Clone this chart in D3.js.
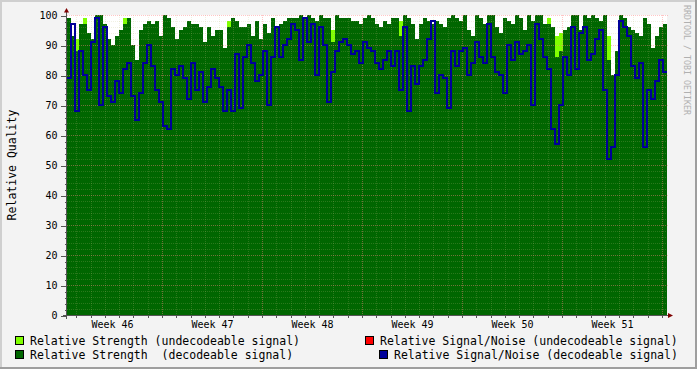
<!DOCTYPE html>
<html><head><meta charset="utf-8">
<script src="https://cdn.jsdelivr.net/npm/d3@7"></script>
<style>
html,body{margin:0;padding:0;background:#F3F3F3;overflow:hidden}
text{font-family:"DejaVu Sans Mono",monospace;white-space:pre}
</style>
</head><body><svg id="c" width="697" height="369"></svg>
<script>
// ---- data (one sample every 1/150 of the 6-week span) ----
const strengthDec = [
 99,93,88,97,97,94,92,100,100,97, 92,90,93,95,97,99,90,85,95,97,
 98,97,98,93,100,99,96,92,95,96, 98,97,97,96,91,96,93,95,95,89,
 96,99,98,96,96,97,93,98,92,97, 94,99,96,97,98,99,99,99,100,99,
 100,99,98,100,99,99,91,100,99,99, 99,98,98,97,99,100,99,97,96,98,
 97,99,99,93,100,99,97,92,97,99, 98,97,98,97,96,99,100,99,98,100,
 95,93,100,99,97,100,100,96,94,99, 98,97,100,99,95,100,98,100,100,97,
 97,96,86,88,95,96,100,100,95,100, 99,100,99,98,100,85,80,88,100,99,
 96,95,94,93,99,97,89,93,96,97
];
const strengthUndec = [
 null,null,92,null,99,null,null,null,null,null, null,null,null,null,99,null,null,null,null,null,
 null,null,null,null,null,null,null,null,null,null, null,null,null,null,null,null,null,null,null,null,
 98,null,null,null,null,null,null,null,null,null, null,null,null,null,null,null,null,null,null,null,
 null,null,null,null,null,null,95,null,null,null, null,null,null,null,null,null,null,null,null,null,
 null,null,null,98,null,null,null,null,null,null, null,null,null,null,null,null,null,null,null,null,
 null,null,null,null,null,null,null,null,null,null, null,null,null,null,null,null,null,null,null,null,
 99,null,93,94,null,null,null,null,null,null, null,null,null,null,null,93,null,null,null,null,
 null,null,null,null,null,null,null,null,null,null
];
const snrDec = [
 79,97,68,88,80,75,91,99,70,96, 73,71,78,74,82,84,73,65,74,84,
 90,83,75,71,63,62,82,80,83,79, 72,84,75,81,71,76,82,79,76,68,
 75,68,87,69,86,90,84,78,80,88, 70,86,96,86,90,92,97,95,85,99,
 91,97,80,96,90,71,81,88,91,92, 90,87,88,84,91,89,88,84,82,85,
 88,83,88,75,96,68,83,77,83,85, 92,98,74,80,79,69,88,83,88,89,
 80,84,91,86,84,97,86,81,80,74, 90,85,91,87,88,90,70,97,92,86,
 82,62,57,70,86,80,96,82,94,96, 85,87,92,95,75,52,56,80,98,96,
 93,83,79,84,56,75,72,78,85,81
];
const snrUndec = [];
const yTicks = [0,10,20,30,40,50,60,70,80,90,100];
const yMinorTicks = d3.range(0,101,2);
const weekLabel = "Week %V";
const legendLeft = ["Relative Strength (undecodeable signal)","Relative Strength  (decodeable signal)"];
const legendRight = ["Relative Signal/Noise (undecodeable signal)","Relative Signal/Noise (decodeable signal)"];
const colors = {undecStr:"#80FF00", decStr:"#006600", undecSnr:"#FF0000", decSnr:"#000099"};

// ---- layout ----
const svg = d3.select("#c");
const start = new Date(Date.UTC(2005,10,14,8,24));
const end = new Date(start.getTime() + 42*864e5);
const x = d3.scaleUtc().domain([start,end]).range([67,667]);
const y = d3.scaleLinear().domain([0,100]).range([315,15]);
const n = snrDec.length;
const step = (end - start)/n;
const tAt = i => new Date(start.getTime() + i*step);

// frame
svg.append("rect").attr("width",697).attr("height",369).attr("fill","#F3F3F3");
svg.append("rect").attr("x",0).attr("y",0).attr("width",697).attr("height",2).attr("fill","#CFCFCF");
svg.append("rect").attr("x",0).attr("y",0).attr("width",2).attr("height",369).attr("fill","#CFCFCF");
svg.append("rect").attr("x",0).attr("y",367).attr("width",697).attr("height",2).attr("fill","#9E9E9E");
svg.append("rect").attr("x",695).attr("y",0).attr("width",2).attr("height",369).attr("fill","#9E9E9E");

// canvas
svg.append("rect").attr("x",x(start)).attr("y",y(100)).attr("width",x(end)-x(start)).attr("height",y(0)-y(100)).attr("fill","#FFFFFF");

const plot = svg.append("g").attr("shape-rendering","crispEdges");
plot.selectAll("rect.u").data(strengthUndec.map((v,i)=>({v,i})).filter(d=>d.v!=null)).join("rect")
  .attr("x",d=>x(tAt(d.i))).attr("width",d=>x(tAt(d.i+1))-x(tAt(d.i)))
  .attr("y",d=>y(d.v)).attr("height",d=>y(0)-y(d.v)).attr("fill",colors.undecStr);
const strData = strengthDec.map((v,i)=>({t:tAt(i),v})).concat([{t:end,v:strengthDec[n-1]}]);
plot.append("path").datum(strData)
  .attr("d",d3.area().x(d=>x(d.t)).y0(y(0)).y1(d=>y(d.v)).curve(d3.curveStepAfter))
  .attr("fill",colors.decStr);

// grid
const grid = svg.append("g").attr("shape-rendering","crispEdges");
const minorCol = "rgba(192,192,128,0.22)", majorCol = "rgba(255,128,128,0.45)";
yMinorTicks.filter(v=>v%10!==0).forEach(v=>{
  grid.append("line").attr("x1",67).attr("x2",667).attr("y1",y(v)+0.5).attr("y2",y(v)+0.5)
    .attr("stroke",minorCol).attr("stroke-dasharray","1,1");
});
const days = d3.utcDay.range(start,end);
days.filter(d=>d.getUTCDay()!==1).forEach(d=>{
  grid.append("line").attr("x1",Math.round(x(d))+0.5).attr("x2",Math.round(x(d))+0.5).attr("y1",15).attr("y2",315)
    .attr("stroke",minorCol).attr("stroke-dasharray","1,1");
});
yTicks.filter(v=>v>0).forEach(v=>{
  grid.append("line").attr("x1",67).attr("x2",669).attr("y1",y(v)+0.5).attr("y2",y(v)+0.5)
    .attr("stroke",majorCol).attr("stroke-dasharray","1,1");
});
const mondays = d3.utcMonday.range(start,end);
mondays.forEach(d=>{
  grid.append("line").attr("x1",Math.round(x(d))+0.5).attr("x2",Math.round(x(d))+0.5).attr("y1",15).attr("y2",318)
    .attr("stroke",majorCol).attr("stroke-dasharray","1,1");
});

// SNR line
const snrData = snrDec.map((v,i)=>({t:tAt(i),v})).concat([{t:end,v:snrDec[n-1]}]);
svg.append("path").datum(snrData)
  .attr("d",d3.line().x(d=>x(d.t)).y(d=>y(d.v)).curve(d3.curveStepAfter))
  .attr("fill","none").attr("stroke",colors.decSnr).attr("stroke-width",2).attr("shape-rendering","crispEdges");
if (snrUndec.length) {
  svg.append("path").datum(snrUndec.map((v,i)=>({t:tAt(i),v})))
    .attr("d",d3.line().x(d=>x(d.t)).y(d=>y(d.v)).curve(d3.curveStepAfter))
    .attr("fill","none").attr("stroke",colors.undecSnr).attr("stroke-width",2);
}

// axes
const axisCol = "#555";
const yAx = svg.append("g").attr("transform","translate(66.5,0)")
  .call(d3.axisLeft(y).tickValues(yTicks).tickSize(6).tickPadding(3).tickSizeOuter(0));
yAx.select(".domain").remove();
yAx.selectAll("line").attr("stroke",axisCol).attr("shape-rendering","crispEdges").attr("transform","translate(0,0.5)");
yAx.selectAll("text").attr("font-family","DejaVu Sans Mono").attr("font-size","10px").attr("fill","#000");
const yAxMin = svg.append("g").attr("transform","translate(66.5,0)")
  .call(d3.axisLeft(y).tickValues(yMinorTicks.filter(v=>v%10)).tickSize(2).tickFormat(""));
yAxMin.select(".domain").remove();
yAxMin.selectAll("line").attr("stroke",axisCol).attr("shape-rendering","crispEdges").attr("transform","translate(0,0.5)");

const xAxMin = svg.append("g").attr("transform","translate(0,315.5)")
  .call(d3.axisBottom(x).tickValues(days).tickSize(2).tickFormat(""));
xAxMin.select(".domain").remove();
xAxMin.selectAll("line").attr("stroke",axisCol).attr("shape-rendering","crispEdges");
xAxMin.selectAll(".tick").attr("transform",d=>`translate(${Math.round(x(d))+0.5},0)`);
const mids = mondays.concat(d3.utcMonday.floor(start)).map(d=>new Date(d.getTime()+3.5*864e5))
  .filter(d=>d>start && d<end).sort((a,b)=>a-b);
const xLab = svg.append("g").attr("transform","translate(0,315)")
  .call(d3.axisBottom(x).tickValues(mids).tickSize(0).tickPadding(6).tickFormat(d3.utcFormat(weekLabel)));
xLab.select(".domain").remove();
xLab.selectAll("text").attr("font-family","DejaVu Sans Mono").attr("font-size","10px").attr("fill","#000");

svg.append("line").attr("x1",66.5).attr("x2",66.5).attr("y1",319).attr("y2",11).attr("stroke",axisCol);
svg.append("line").attr("x1",63).attr("x2",669).attr("y1",315.5).attr("y2",315.5).attr("stroke",axisCol);
svg.append("path").attr("d","M64,12.5L69,12.5L66.5,8Z").attr("fill","#7F0000");
svg.append("path").attr("d","M668,313L668,318L673,315.5Z").attr("fill","#7F0000");

// titles
svg.append("text").attr("transform","translate(16,165) rotate(-90)").attr("text-anchor","middle")
  .attr("font-size","11.5px").attr("fill","#000").text("Relative Quality");
svg.append("text").attr("transform","translate(684,5) rotate(90)")
  .attr("font-size","8.5px").attr("fill","#B0B0B0")
  .attr("textLength",110).attr("lengthAdjust","spacingAndGlyphs").text("RRDTOOL / TOBI OETIKER");

// legend
const leg = [
  {c:colors.undecStr, t:legendLeft[0], sx:15, tx:30, y:345},
  {c:colors.decStr, t:legendLeft[1], sx:15, tx:30, y:359},
  {c:colors.undecSnr, t:legendRight[0], sx:365, tx:380, y:345},
  {c:colors.decSnr, t:legendRight[1], sx:379, tx:394, y:359}
];
leg.forEach(l=>{
  svg.append("rect").attr("x",l.sx+0.5).attr("y",l.y-8.5).attr("width",8).attr("height",8)
    .attr("fill",l.c).attr("stroke","#000").attr("shape-rendering","crispEdges");
  svg.append("text").attr("x",l.tx).attr("y",l.y).attr("font-size","11.5px").attr("fill","#000").text(l.t);
});
</script>
</body></html>
